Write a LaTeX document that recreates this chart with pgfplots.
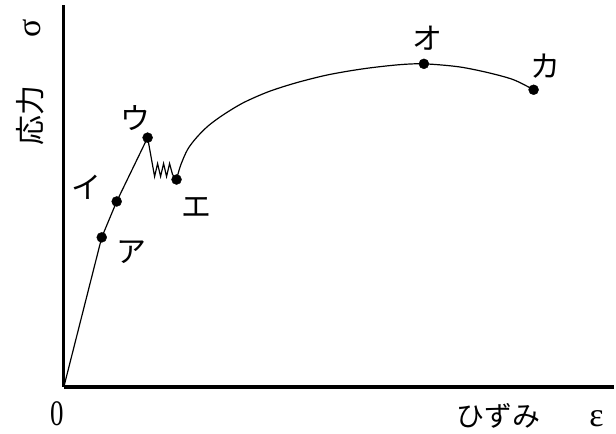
\documentclass[border=0pt]{standalone}
\usepackage{pgfplots}
\pgfplotsset{compat=1.18}
\usepackage{graphicx}
\usepackage{fontspec}
\setmainfont{Liberation Serif}
\newfontfamily\jp{Noto Sans CJK JP}
\begin{document}
\begin{tikzpicture}
\begin{axis}[
  scale only axis, width=552pt, height=383pt,
  xmin=0, xmax=552, ymin=0, ymax=383,
  axis lines=left, axis line style={line width=3.2pt,-},
  ticks=none, clip=false,
]
\path (axis cs:-64,-47) rectangle (axis cs:552,388);
% elastic part and yield zigzag
\addplot[black, line width=1.2pt] coordinates {
  (0,0) (38,150) (53,186) (84,250) (91,211) (94,224) (97,211) (100,224)
  (103,211) (106,224) (109,213) (113,208)
};
% strain hardening curve
\addplot[black, smooth, line width=1.2pt] coordinates {
  (113,208) (117,222) (124,238) (133,250) (145,262) (160,273) (180,285)
  (205,296) (233,305) (265,313) (300,319) (335,323) (361,324) (396,321)
  (426,315) (451,308) (471,298)
};
% points
\addplot[only marks, mark=*, mark size=5pt, black] coordinates {
  (38,150) (53,186) (84,250) (113,208) (361,324) (471,298)
};
\node[font=\fontsize{30}{32}\selectfont\jp] at (axis cs:68,135) {ア};
\node[font=\fontsize{30}{32}\selectfont\jp] at (axis cs:23,200) {イ};
\node[font=\fontsize{30}{32}\selectfont\jp] at (axis cs:72,270) {ウ};
\node[font=\fontsize{30}{32}\selectfont\jp] at (axis cs:133,180) {エ};
\node[font=\fontsize{30}{32}\selectfont\jp] at (axis cs:365,350) {オ};
\node[font=\fontsize{30}{32}\selectfont\jp] at (axis cs:483,322) {カ};
\node[anchor=base, font=\fontsize{36}{38}\selectfont, inner sep=0pt] at (axis cs:-7,-39) {\scalebox{0.75}[1]{0}};
\node[anchor=base, font=\fontsize{28}{30}\selectfont\jp, inner sep=0pt] at (axis cs:436,-40) {ひずみ};
\node[anchor=base, font=\fontsize{34}{36}\selectfont, inner sep=0pt] at (axis cs:534,-40) {ε};
\node[rotate=90, font=\fontsize{30}{32}\selectfont\jp, inner sep=0pt] at (axis cs:-34,272) {応力};
\node[rotate=90, font=\fontsize{34}{36}\selectfont, inner sep=0pt] at (axis cs:-32,360) {σ};
\end{axis}
\end{tikzpicture}
\end{document}
